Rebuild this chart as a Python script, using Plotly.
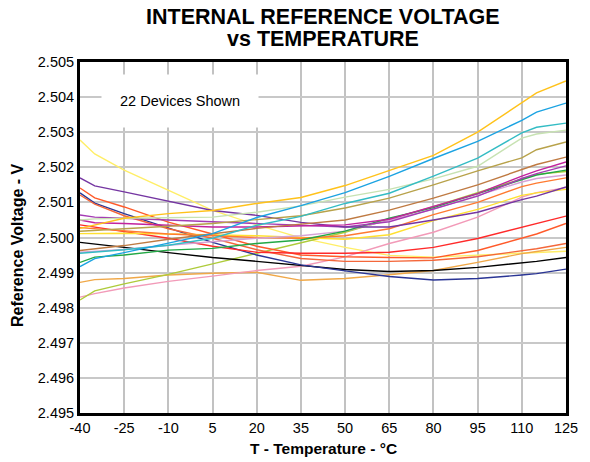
import plotly.graph_objects as go

# Temperature sample points (°C)
temps = [-40, -35, -25, -10, 5, 20, 35, 50, 65, 80, 95, 110, 115, 125]

# Reference voltage per device (V)
dev_gold = [2.50026, 2.50035, 2.50055, 2.50068, 2.50077, 2.50097, 2.50114, 2.50148, 2.50191, 2.50234, 2.50300, 2.50383, 2.50412, 2.50446]
dev_sky = [2.49917, 2.49940, 2.49957, 2.49983, 2.50011, 2.50057, 2.50091, 2.50128, 2.50174, 2.50225, 2.50274, 2.50334, 2.50357, 2.50383]
dev_teal = [2.49955, 2.49958, 2.49965, 2.49978, 2.49998, 2.50035, 2.50060, 2.50097, 2.50126, 2.50175, 2.50226, 2.50298, 2.50314, 2.50326]
dev_palegreen = [2.50050, 2.50053, 2.50055, 2.50056, 2.50058, 2.50072, 2.50090, 2.50115, 2.50137, 2.50167, 2.50203, 2.50283, 2.50295, 2.50306]
dev_olive = [2.50018, 2.50020, 2.50025, 2.50032, 2.50040, 2.50050, 2.50062, 2.50084, 2.50112, 2.50150, 2.50190, 2.50227, 2.50250, 2.50272]
dev_brown = [2.49963, 2.49968, 2.49977, 2.49995, 2.50011, 2.50026, 2.50038, 2.50050, 2.50078, 2.50112, 2.50150, 2.50195, 2.50208, 2.50229]
dev_magenta = [2.50050, 2.50042, 2.50040, 2.50034, 2.50030, 2.50030, 2.50032, 2.50036, 2.50052, 2.50088, 2.50125, 2.50175, 2.50190, 2.50215]
dev_purple = [2.50064, 2.50058, 2.50055, 2.50050, 2.50045, 2.50040, 2.50037, 2.50030, 2.50045, 2.50082, 2.50118, 2.50168, 2.50182, 2.50204]
dev_green = [2.49929, 2.49944, 2.49950, 2.49964, 2.49969, 2.49983, 2.49993, 2.50018, 2.50055, 2.50085, 2.50125, 2.50165, 2.50178, 2.50192]
dev_yellowgreen = [2.49822, 2.49848, 2.49868, 2.49895, 2.49925, 2.49955, 2.49985, 2.50015, 2.50052, 2.50088, 2.50128, 2.50168, 2.50180, 2.50188]
dev_lavender = [2.49958, 2.49960, 2.49966, 2.49978, 2.49988, 2.49998, 2.50005, 2.50018, 2.50050, 2.50080, 2.50120, 2.50158, 2.50168, 2.50178]
dev_orange = [2.50028, 2.50025, 2.50020, 2.50010, 2.50005, 2.50000, 2.49998, 2.50005, 2.50025, 2.50065, 2.50100, 2.50145, 2.50155, 2.50170]
dev_darkpurple = [2.50170, 2.50147, 2.50130, 2.50104, 2.50077, 2.50063, 2.50043, 2.50030, 2.50030, 2.50050, 2.50072, 2.50108, 2.50118, 2.50144]
dev_yellow = [2.50011, 2.50012, 2.50012, 2.50010, 2.50008, 2.50005, 2.50000, 2.49995, 2.50008, 2.50048, 2.50080, 2.50120, 2.50127, 2.50137]
dev_pink = [2.49830, 2.49840, 2.49856, 2.49875, 2.49890, 2.49906, 2.49918, 2.49945, 2.49983, 2.50015, 2.50058, 2.50115, 2.50128, 2.50142]
dev_red = [2.50036, 2.50030, 2.50018, 2.49998, 2.49975, 2.49958, 2.49955, 2.49955, 2.49958, 2.49972, 2.49997, 2.50029, 2.50040, 2.50061]
dev_orangered = [2.50141, 2.50113, 2.50087, 2.50044, 2.50010, 2.49975, 2.49950, 2.49945, 2.49943, 2.49942, 2.49963, 2.49997, 2.50010, 2.50040]
dev_vermilion = [2.50121, 2.50095, 2.50062, 2.50025, 2.49998, 2.49965, 2.49940, 2.49932, 2.49932, 2.49935, 2.49945, 2.49962, 2.49968, 2.49983]
dev_amber = [2.49872, 2.49880, 2.49883, 2.49893, 2.49898, 2.49901, 2.49878, 2.49883, 2.49894, 2.49906, 2.49929, 2.49954, 2.49960, 2.49972]
dev_paleyellow = [2.50278, 2.50238, 2.50192, 2.50135, 2.50077, 2.50036, 2.49999, 2.49972, 2.49949, 2.49944, 2.49950, 2.49957, 2.49958, 2.49961]
dev_black = [2.49986, 2.49982, 2.49972, 2.49957, 2.49943, 2.49932, 2.49920, 2.49909, 2.49903, 2.49906, 2.49915, 2.49928, 2.49932, 2.49943]
dev_navy = [2.50127, 2.50098, 2.50068, 2.50026, 2.49986, 2.49950, 2.49922, 2.49905, 2.49889, 2.49879, 2.49883, 2.49893, 2.49897, 2.49910]

x_ticks = [-40, -25, -10, 5, 20, 35, 50, 65, 80, 95, 110, 125]
y_ticks = [2.495, 2.496, 2.497, 2.498, 2.499, 2.500, 2.501, 2.502, 2.503, 2.504, 2.505]

devices = [
    (dev_paleyellow, "#FFEE66"),
    (dev_amber, "#F0A848"),
    (dev_pink, "#F29AB8"),
    (dev_yellowgreen, "#AECB3A"),
    (dev_black, "#000000"),
    (dev_navy, "#2A3595"),
    (dev_vermilion, "#F4673A"),
    (dev_orangered, "#FF5A2A"),
    (dev_red, "#FF2A2A"),
    (dev_yellow, "#FFE030"),
    (dev_orange, "#FF7A30"),
    (dev_lavender, "#D6A2D6"),
    (dev_green, "#22A845"),
    (dev_purple, "#A43CB4"),
    (dev_darkpurple, "#7536A2"),
    (dev_magenta, "#C2239E"),
    (dev_brown, "#BF7A42"),
    (dev_olive, "#B8A24A"),
    (dev_palegreen, "#C7E2B2"),
    (dev_teal, "#33BCC4"),
    (dev_sky, "#1BA3E2"),
    (dev_gold, "#FFC21A"),
]

fig = go.Figure()
for vals, color in devices:
    fig.add_trace(go.Scatter(x=temps, y=vals, mode="lines",
                             line=dict(color=color, width=1.4),
                             showlegend=False, hoverinfo="skip"))

font_family = "Arial, Liberation Sans, sans-serif"

fig.update_layout(
    width=590, height=462,
    margin=dict(l=80, r=13, t=62, b=49),
    paper_bgcolor="white", plot_bgcolor="white",
    font=dict(family=font_family, size=13, color="black"),
)

fig.update_xaxes(range=[-40, 125], tickvals=x_ticks, ticktext=[str(v) for v in x_ticks],
                 showgrid=True, gridcolor="#c2c2c2", gridwidth=1.5,
                 showline=True, linecolor="black", linewidth=3, mirror=True,
                 ticks="", zeroline=False, tickfont=dict(size=14.5))
fig.update_yaxes(range=[2.495, 2.505], tickvals=y_ticks, ticktext=[f"{v:.3f}" for v in y_ticks],
                 showgrid=True, gridcolor="#c8c8c8", gridwidth=1.5,
                 showline=True, linecolor="black", linewidth=3, mirror=True,
                 ticks="", zeroline=False, tickfont=dict(size=14.5))

# Two-line chart title
fig.add_annotation(text="<b>INTERNAL REFERENCE VOLTAGE</b>", xref="paper", yref="paper",
                   x=0.5, y=1.128, xanchor="center", yanchor="middle", showarrow=False,
                   font=dict(size=21.5))
fig.add_annotation(text="<b>vs TEMPERATURE</b>", xref="paper", yref="paper",
                   x=0.5, y=1.066, xanchor="center", yanchor="middle", showarrow=False,
                   font=dict(size=21.5))

# Axis titles
fig.add_annotation(text="<b>T - Temperature - °C</b>", xref="paper", yref="paper",
                   x=0.5, y=-0.07, xanchor="center", yanchor="top", showarrow=False,
                   font=dict(size=15.5))
fig.add_annotation(text="<b>Reference Voltage - V</b>", xref="paper", yref="paper",
                   x=-0.13, y=0.478, textangle=-90, xanchor="center", yanchor="middle",
                   showarrow=False, font=dict(size=16))

# Device count note
fig.add_annotation(text="22 Devices Shown", xref="x", yref="y", x=-6, y=2.5039,
                   showarrow=False, bgcolor="white", borderpad=18,
                   font=dict(size=14.5))

fig.write_html("out.html")
